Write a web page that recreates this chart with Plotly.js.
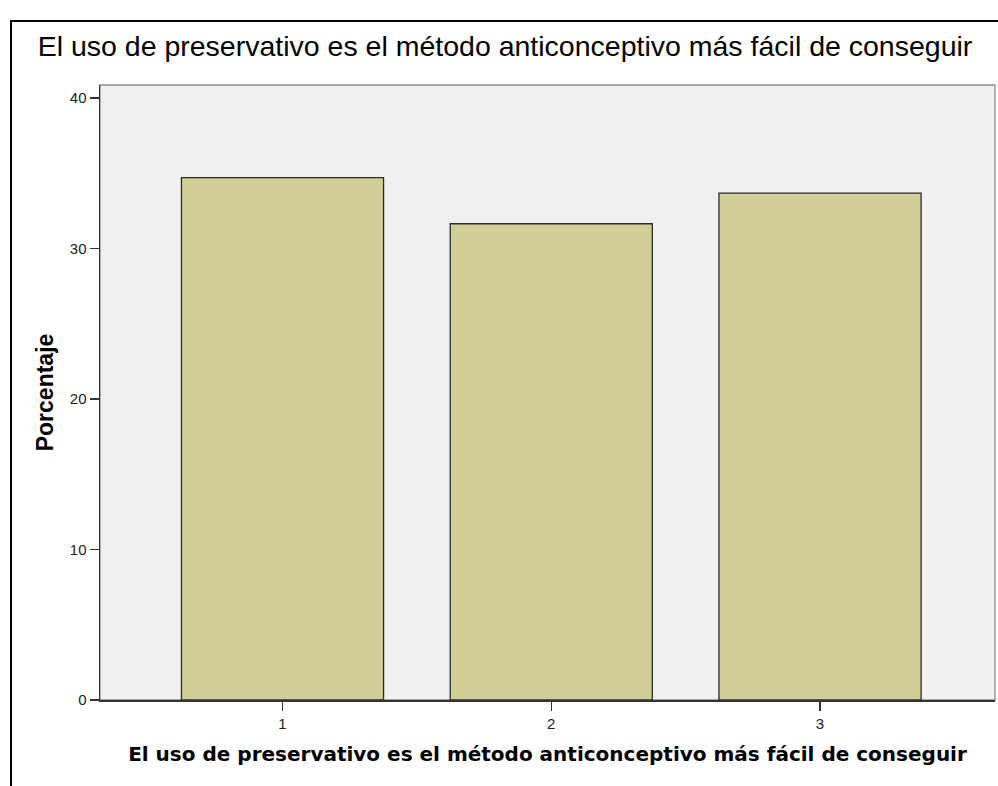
<!DOCTYPE html>
<html>
<head>
<meta charset="utf-8">
<script src="https://cdn.plot.ly/plotly-3.0.1.min.js"></script>
<style>
html,body{margin:0;padding:0;background:#fff;}
#wrap{position:relative;width:998px;height:786px;overflow:hidden;}
#chart{width:998px;height:786px;}
#frame{position:absolute;left:10px;top:20px;width:1100px;height:900px;border-left:2px solid #000;border-top:2px solid #000;pointer-events:none;}
</style>
</head>
<body>
<div id="wrap">
<div id="chart"></div>
<div id="frame"></div>
</div>
<script>
const categories = [1, 2, 3];
const tickLabels = ['1', '2', '3'];
const percentages = [34.71, 31.65, 33.69];
const chartTitle = 'El uso de preservativo es el método anticonceptivo más fácil de conseguir';
const xTitle = 'El uso de preservativo es el método anticonceptivo más fácil de conseguir';
const yTitle = 'Porcentaje';
const yTicks = [0, 10, 20, 30, 40];

const trace = {
  type: 'bar',
  x: categories,
  y: percentages,
  width: 0.752,
  marker: {color: '#d3ce97', line: {color: '#2b2b2b', width: 1.3}},
  hoverinfo: 'x+y'
};

const layout = {
  width: 998,
  height: 786,
  margin: {l: 100, r: 3, t: 85, b: 86},
  paper_bgcolor: '#ffffff',
  plot_bgcolor: '#f0f0f0',
  showlegend: false,
  title: {
    text: chartTitle,
    font: {family: 'Liberation Sans, Arial, sans-serif', size: 28.5, color: '#000'},
    x: 505/998, xref: 'container', xanchor: 'center',
    y: 1 - 46/786, yref: 'container', yanchor: 'middle'
  },
  xaxis: {
    type: 'linear',
    range: [0.321, 3.651],
    tickmode: 'array',
    tickvals: categories,
    ticktext: tickLabels,
    ticks: 'outside', ticklen: 9, tickwidth: 1.5, tickcolor: '#333',
    showline: true, linecolor: '#333', linewidth: 1.5,
    showgrid: false, zeroline: false,
    tickfont: {family: 'Liberation Sans, Arial, sans-serif', size: 15, color: '#222'},
    title: {text: xTitle, font: {family: 'DejaVu Sans, sans-serif', size: 20, color: '#000', weight: 'bold'}, standoff: 16}
  },
  yaxis: {
    range: [0, 40.87],
    tickmode: 'array',
    tickvals: yTicks,
    ticks: 'outside', ticklen: 9, tickwidth: 1.5, tickcolor: '#333',
    showline: true, linecolor: '#333', linewidth: 1.5,
    showgrid: false, zeroline: false,
    tickfont: {family: 'Liberation Sans, Arial, sans-serif', size: 15, color: '#222'},
    title: {text: yTitle, font: {family: 'Liberation Sans, Arial, sans-serif', size: 23, color: '#000', weight: 'bold'}, standoff: 10}
  },
  shapes: [{
    type: 'rect', xref: 'paper', yref: 'paper', x0: 0, x1: 1, y0: 0, y1: 1,
    line: {color: '#8a8a8a', width: 1.3}, layer: 'below'
  }]
};

Plotly.newPlot('chart', [trace], layout, {displayModeBar: false, staticPlot: true});
</script>
</body>
</html>
